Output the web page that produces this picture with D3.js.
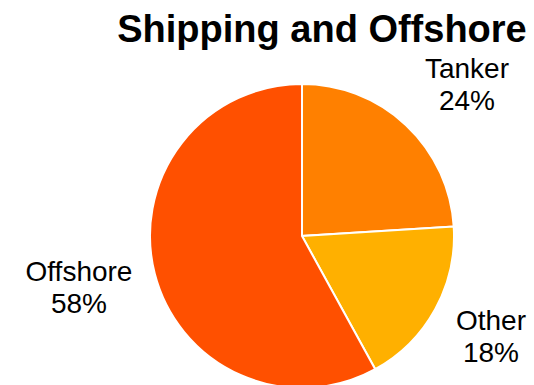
<!DOCTYPE html>
<html>
<head>
<meta charset="utf-8">
<script src="https://cdn.jsdelivr.net/npm/d3@7"></script>
<style>
  html, body { margin: 0; padding: 0; background: #fff; overflow: hidden; }
  svg { display: block; font-family: "Liberation Sans", Arial, sans-serif; }
</style>
</head>
<body>
<svg id="chart" width="534" height="385"></svg>
<script>
// Segment data, in drawing order (clockwise from 12 o'clock)
const categories = ["Tanker", "Other", "Offshore"];
const shares = [24, 18, 58];
const colors = ["#FF8000", "#FFB000", "#FF5000"];
const title = "Shipping and Offshore";

// Label anchors: centre x and first-line baseline of each two-line label
const labelPos = [[467, 78], [491, 330], [79, 281]];

const svg = d3.select("#chart");
const cx = 302, cy = 236, r = 152;

const pie = d3.pie().sort(null).value(d => d.value);
const arc = d3.arc().innerRadius(0).outerRadius(r);
const data = categories.map((c, i) => ({ name: c, value: shares[i], color: colors[i] }));

const g = svg.append("g").attr("transform", `translate(${cx},${cy})`);
g.selectAll("path")
  .data(pie(data))
  .join("path")
  .attr("d", arc)
  .attr("fill", d => d.data.color)
  .attr("stroke", "#fff")
  .attr("stroke-width", 2);

svg.append("text")
  .attr("x", 322).attr("y", 42)
  .attr("text-anchor", "middle")
  .attr("font-size", 38)
  .attr("font-weight", "bold")
  .attr("fill", "#000")
  .text(title);

const labels = svg.selectAll("text.lbl")
  .data(data)
  .join("text")
  .attr("class", "lbl")
  .attr("text-anchor", "middle")
  .attr("font-size", 28)
  .attr("fill", "#000");
labels.append("tspan")
  .attr("x", (d, i) => labelPos[i][0])
  .attr("y", (d, i) => labelPos[i][1])
  .text(d => d.name);
labels.append("tspan")
  .attr("x", (d, i) => labelPos[i][0])
  .attr("y", (d, i) => labelPos[i][1] + 32)
  .text(d => d.value + "%");
</script>
</body>
</html>
